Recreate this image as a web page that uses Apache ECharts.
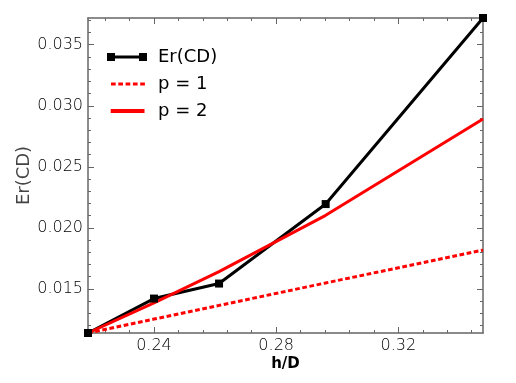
<!DOCTYPE html>
<html>
<head>
<meta charset="utf-8">
<script src="https://cdn.jsdelivr.net/npm/echarts@6/dist/echarts.min.js"></script>
<style>
html,body{margin:0;padding:0;background:#fff;}
#chart{width:516px;height:383px;}
</style>
</head>
<body>
<div id="chart"></div>
<script>
// ---- data ----
const hD = [0.2184, 0.2400, 0.2613, 0.2962, 0.3477];
const erCD = [0.01139, 0.01421, 0.01544, 0.02195, 0.03719];
const p1 = [0.01139, 0.01253, 0.01365, 0.01549, 0.01818];
const p2 = [0.01139, 0.01385, 0.01642, 0.02103, 0.02892];
const seriesNames = ['Er(CD)', 'p = 1', 'p = 2'];

const xMin = 0.2184, xMax = 0.3477;
const yMin = 0.01139, yMax = 0.03719;
const xMajor = [0.24, 0.28, 0.32];
const xMinor = [0.224, 0.232, 0.248, 0.256, 0.264, 0.272, 0.288, 0.296, 0.304, 0.312, 0.328, 0.336, 0.344];
const yMajor = [0.015, 0.020, 0.025, 0.030, 0.035];
const yMinor = [0.012, 0.013, 0.014, 0.016, 0.017, 0.018, 0.019, 0.021, 0.022, 0.023, 0.024,
                0.026, 0.027, 0.028, 0.029, 0.031, 0.032, 0.033, 0.034, 0.036, 0.037];
const xTickDecimals = 2, yTickDecimals = 3;

// ---- chart ----
const AXIS_COLOR = '#666666';
const tickFont = { fontFamily: 'DejaVu Sans', fontSize: 16, fontWeight: 200, color: '#000' };

function xAx(pos, ticks, len, showLine, showLabel, extra) {
  return Object.assign({
    type: 'value', position: pos, min: xMin, max: xMax, gridIndex: 0,
    axisLine: { show: showLine, onZero: false, lineStyle: { color: AXIS_COLOR, width: 1.5 } },
    axisTick: { show: true, inside: true, length: len, customValues: ticks, lineStyle: { color: AXIS_COLOR, width: 1 } },
    axisLabel: showLabel ? Object.assign({ show: true, margin: 5, customValues: ticks,
      formatter: v => v.toFixed(xTickDecimals) }, tickFont) : { show: false },
    splitLine: { show: false }
  }, extra || {});
}
function yAx(pos, ticks, len, showLine, showLabel, extra) {
  return Object.assign({
    type: 'value', position: pos, min: yMin, max: yMax, gridIndex: 0,
    axisLine: { show: showLine, onZero: false, lineStyle: { color: AXIS_COLOR, width: 1.5 } },
    axisTick: { show: true, inside: true, length: len, customValues: ticks, lineStyle: { color: AXIS_COLOR, width: 1 } },
    axisLabel: showLabel ? Object.assign({ show: true, margin: 5, customValues: ticks,
      formatter: v => v.toFixed(yTickDecimals) }, tickFont) : { show: false },
    splitLine: { show: false }
  }, extra || {});
}

const tiny = ' M0,0h0.01v0.01h-0.01z M45.99,7.99h0.01v0.01h-0.01z';
const iconBlack = 'path://M0,0h8v8h-8z M32,0h8v8h-8z M8,2.5h24v3h-24z' + tiny;
const iconDot = 'path://M4,2.5h4.7v3h-4.7z M11.3,2.5h4.7v3h-4.7z M18.6,2.5h4.7v3h-4.7z M25.9,2.5h4.7v3h-4.7z M33.2,2.5h4.7v3h-4.7z' + tiny;
const iconSolid = 'path://M3.7,2h33.8v4h-33.8z' + tiny;

const chart = echarts.init(document.getElementById('chart'), null, { renderer: 'canvas' });
chart.setOption({
  animation: false,
  backgroundColor: '#ffffff',
  grid: { left: 88, top: 18, width: 395, height: 315, containLabel: false },
  legend: {
    orient: 'vertical', left: 102, top: 43, itemGap: 9, itemWidth: 46, itemHeight: 8,
    itemStyle: { borderWidth: 0 },
    textStyle: { fontFamily: 'DejaVu Sans', fontSize: 18, color: '#000' },
    data: [
      { name: seriesNames[0], icon: iconBlack },
      { name: seriesNames[1], icon: iconDot },
      { name: seriesNames[2], icon: iconSolid }
    ]
  },
  xAxis: [
    xAx('bottom', xMajor, 6, true, true, {
      name: 'h/D', nameLocation: 'middle', nameGap: 24, nameMoveOverlap: false,
      nameTextStyle: { fontFamily: 'DejaVu Sans', fontSize: 15, fontWeight: 'bold', color: '#000' }
    }),
    xAx('bottom', xMinor, 3, false, false),
    xAx('top', xMajor, 6, true, false),
    xAx('top', xMinor, 3, false, false)
  ],
  yAxis: [
    yAx('left', yMajor, 6, true, true, {
      name: 'Er(CD)', nameLocation: 'middle', nameGap: 55, nameMoveOverlap: false,
      nameTextStyle: { fontFamily: 'DejaVu Sans', fontSize: 18, fontWeight: 'normal', color: '#444' }
    }),
    yAx('left', yMinor, 3, false, false),
    yAx('right', yMajor, 6, true, false),
    yAx('right', yMinor, 3, false, false)
  ],
  series: [
    {
      name: seriesNames[0], type: 'line', xAxisIndex: 0, yAxisIndex: 0,
      data: hD.map((x, i) => [x, erCD[i]]),
      symbol: 'rect', symbolSize: 8, clip: false,
      itemStyle: { color: '#000' },
      lineStyle: { color: '#000', width: 3 }
    },
    {
      name: seriesNames[1], type: 'line', xAxisIndex: 0, yAxisIndex: 0,
      data: hD.map((x, i) => [x, p1[i]]),
      symbol: 'none', clip: false,
      itemStyle: { color: '#ff0000' },
      lineStyle: { color: '#ff0000', width: 3, type: [4.7, 2.6], cap: 'butt' }
    },
    {
      name: seriesNames[2], type: 'line', xAxisIndex: 0, yAxisIndex: 0,
      data: hD.map((x, i) => [x, p2[i]]),
      symbol: 'none', clip: false,
      itemStyle: { color: '#ff0000' },
      lineStyle: { color: '#ff0000', width: 3 }
    }
  ]
});
</script>
</body>
</html>
